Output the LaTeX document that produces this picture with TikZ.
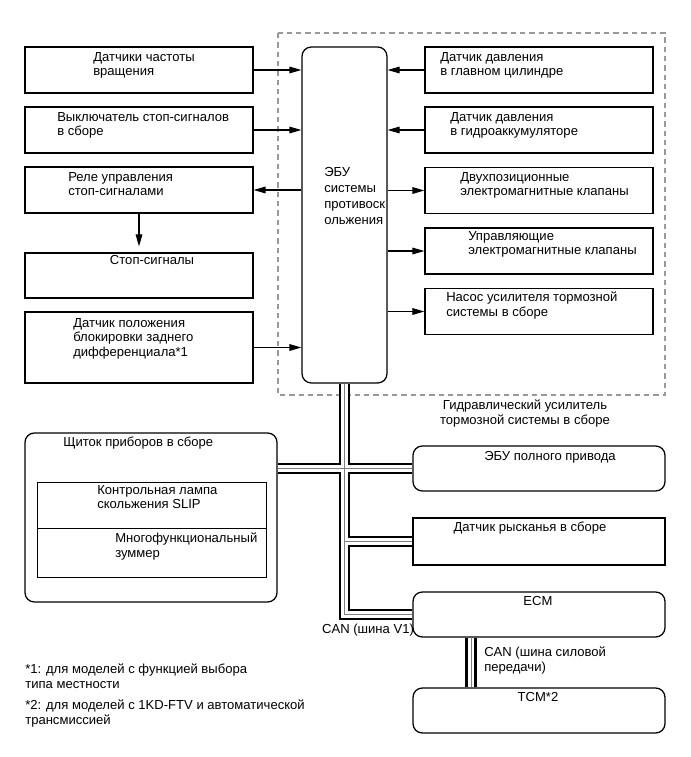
\documentclass[tikz,border=0pt]{standalone}
\usepackage{fontspec}
\setmainfont{Liberation Sans}
\usetikzlibrary{arrows.meta,positioning}
\pgfdeclarelayer{background}
\pgfsetlayers{background,main}

\begin{document}
\begin{tikzpicture}[x=0.75pt, y=-0.75pt,
  blk/.style={draw, fill=white, line width=0.95pt, inner sep=0pt, minimum width=171pt, minimum height=34.5pt},
  rblk/.style={blk, rounded corners=7pt},
  txt/.style={inner sep=0pt, align=left, anchor=north west, font=\fontsize{9.8}{11}\selectfont},
  ctxt/.style={txt, align=center, anchor=north},
  arr/.style={-{Triangle[length=9pt,width=5pt]}, line width=0.8pt}]
\useasboundingbox (0,0) rectangle (691,757);

% left column
\node [blk] (spd) at (139,70) {};
\node [blk] (brk) at (139,130) {};
\node [blk] (rly) at (139,190) {};
\node [blk, minimum height=33.75pt] (lmp) at (139,275.5) {};
\node [blk, minimum height=53.25pt] (dif) at (139,347.5) {};

% ABS ECU
\node [rblk, minimum width=63.75pt, minimum height=252pt] (ecu) at (344.5,215) {};

% right column
\node [blk] (mcp) at (539,70) {};
\node [blk] (acc) at (539,130) {};
\node [blk] (sol) at (539,190.5) {};
\node [blk] (ctl) at (539,251) {};
\node [blk] (pmp) at (539,311.5) {};

% CAN nodes
\node [rblk, minimum width=189pt, minimum height=126.75pt] (clu) at (151,517.5) {};
\node [blk, line width=0.7pt, minimum width=171.75pt] (slp) at (151.5,505) {};
\node [blk, line width=0.7pt, minimum width=171.75pt, minimum height=36.75pt] (bzr) at (151.5,552.5) {};
\node [rblk, minimum width=189pt, minimum height=33.75pt] (awd) at (539,468.5) {};
\node [blk, minimum width=189pt, minimum height=35.25pt] (yaw) at (539,541.5) {};
\node [rblk, minimum width=189pt, minimum height=33.75pt] (ecm) at (539,614.5) {};
\node [rblk, minimum width=189pt, minimum height=33.75pt] (tcm) at (539,710.5) {};

\begin{pgfonlayer}{background}
\draw [gray!80, line width=0.8pt, dash pattern=on 4pt off 3pt] (278,33) rectangle (665,395);
\foreach \w/\col in {8.5pt/black,5pt/white,0.7pt/gray}
  \draw [line width=\w, draw=\col] (ecu.south) |- (ecm.west)
    (clu.east |- awd.west) -- (awd.west)
    (ecu.south |- yaw.west) -- (yaw.west)
    ([xshift=-51pt]ecm.south) -- ([xshift=-51pt]tcm.north);
\end{pgfonlayer}

% signals
\draw [arr] (spd.east) -- (spd.east -| ecu.west);
\draw [arr] (brk.east) -- (brk.east -| ecu.west);
\draw [arr] (ecu.west |- rly.east) -- (rly.east);
\draw [arr, shorten >=4.5pt] (rly.south) -- (lmp.north);
\draw [arr] (dif.east) -- (dif.east -| ecu.west);
\draw [arr] (mcp.west) -- (mcp.west -| ecu.east);
\draw [arr] (acc.west) -- (acc.west -| ecu.east);
\draw [arr] (ecu.east |- sol.west) -- (sol.west);
\draw [arr] (ecu.east |- ctl.west) -- (ctl.west);
\draw [arr] (ecu.east |- pmp.west) -- (pmp.west);

% texts
\node [txt] (tspd) at (93,52) {Датчики частоты\\вращения};
\node [txt] (tbrk) at (57,112) {Выключатель стоп-сигналов\\в сборе};
\node [txt] (trly) at (68,172) {Реле управления\\стоп-сигналами};
\node [ctxt] (tlmp) at (152,255) {Стоп-сигналы};
\node [txt] (tdif) at (73,318) {Датчик положения\\блокировки заднего\\дифференциала*1};
\node [txt, font=\fontsize{9.8}{12}\selectfont] (tecu) at (324,167) {ЭБУ\\системы\\противоск\\ольжения};
\node [txt] (tmcp) at (440,52) {Датчик давления\\в главном цилиндре};
\node [txt] (tacc) at (450,112) {Датчик давления\\в гидроаккумуляторе};
\node [txt] (tsol) at (460,172) {Двухпозиционные\\электромагнитные клапаны};
\node [txt] (tctl) at (468,231) {Управляющие\\электромагнитные клапаны};
\node [txt] (tpmp) at (446,292) {Насос усилителя тормозной\\системы в сборе};
\node [ctxt] (thyd) at (525,400) {Гидравлический усилитель\\тормозной системы в сборе};
\node [txt] (tclu) at (63,437) {Щиток приборов в сборе};
\node [txt] (tslp) at (97,485) {Контрольная лампа\\скольжения SLIP};
\node [txt] (tbzr) at (115,533) {Многофункциональный\\зуммер};
\node [ctxt] (tawd) at (550,451) {ЭБУ полного привода};
\node [ctxt] (tyaw) at (530,522) {Датчик рысканья в сборе};
\node [ctxt] (tecm) at (538,596) {ECM};
\node [ctxt] (ttcm) at (538,692) {TCM*2};
\node [ctxt] (can1) at (368,624) {CAN (шина V1)};
\node [txt] (can2) at (484,647) {CAN (шина силовой\\передачи)};
\node [txt] (nte1) at (25,664) {*1: для моделей с функцией выбора\\типа местности};
\node [txt] (nte2) at (25,700) {*2: для моделей с 1KD-FTV и автоматической\\трансмиссией};
\end{tikzpicture}
\end{document}
